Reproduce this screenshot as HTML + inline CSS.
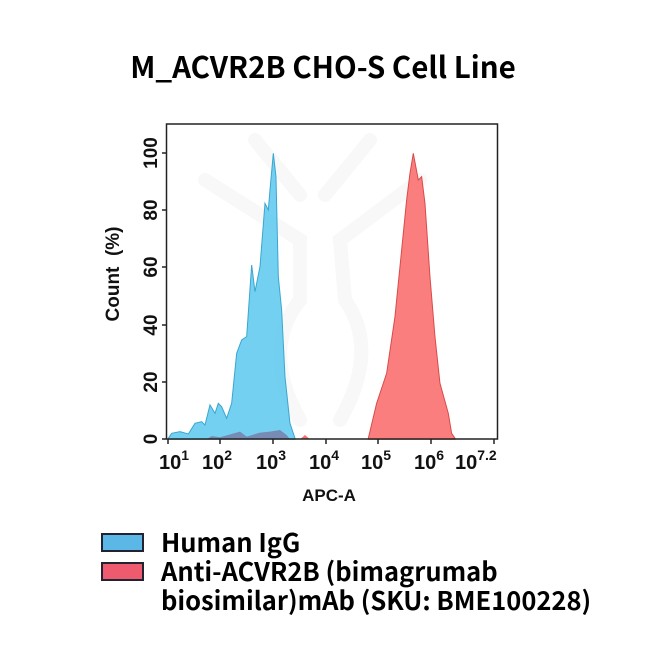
<!DOCTYPE html>
<html><head><meta charset="utf-8"><style>
html,body{margin:0;padding:0;background:#fff;}
svg{display:block;}
.t{font-family:"Liberation Sans",sans-serif;font-weight:bold;fill:#111;}
.n{font-family:"Noto Sans CJK SC","Liberation Sans",sans-serif;font-weight:bold;fill:#000;}
</style></head><body>
<svg width="672" height="672" viewBox="0 0 672 672" xmlns="http://www.w3.org/2000/svg">
<text class="n" x="323" y="78" font-size="29.5" text-anchor="middle">M_ACVR2B CHO-S Cell Line</text>
<!-- faint watermark -->
<g stroke="#f8f8f8" stroke-width="14" fill="none" stroke-linecap="round">
<path d="M205 180 L300 240 L300 300 Q260 350 300 420"/>
<path d="M255 140 L300 195"/>
<path d="M370 140 L325 195"/>
<path d="M420 180 L340 240 L345 300 Q380 350 340 420"/>
</g>
<g transform="translate(100,110) scale(0.3333)">
<path fill="#5bc8ef" fill-opacity="0.85" stroke="#3aa6cf" stroke-width="3" d="M205,988 L205,985 L215,970 L240,965 L265,972 L285,940 L305,935 L315,945 L330,885 L345,910 L355,880 L365,890 L380,925 L395,880 L410,730 L425,690 L440,680 L455,465 L465,545 L480,470 L495,280 L505,300 L510,240 L520,130 L528,200 L535,500 L545,600 L555,800 L570,940 L585,985 L585,988 Z"/>
<path fill="#7a6e9a" fill-opacity="0.7" d="M320,988 L335,978 L360,982 L420,965 L440,980 L480,968 L510,965 L540,960 L560,975 L570,988 Z"/>
<path fill="#fb7070" fill-opacity="0.9" stroke="#d94a4a" stroke-width="3" d="M805,988 L805,985 L830,880 L860,790 L885,620 L905,420 L920,270 L930,190 L940,130 L955,210 L965,200 L975,280 L990,500 L1005,680 L1020,820 L1045,910 L1055,970 L1065,985 L1065,988 Z"/>
<path fill="#fb7070" d="M600,988 L615,975 L630,988 Z"/>
</g>
<rect x="166.5" y="124" width="331" height="315" fill="none" stroke="#222" stroke-width="1.5"/>
<g stroke="#222" stroke-width="1.5">
<line x1="162" y1="439" x2="166" y2="439"/><line x1="162" y1="382" x2="166" y2="382"/>
<line x1="162" y1="325" x2="166" y2="325"/><line x1="162" y1="267" x2="166" y2="267"/>
<line x1="162" y1="210" x2="166" y2="210"/><line x1="162" y1="153" x2="166" y2="153"/>
<line x1="168" y1="439" x2="168" y2="444"/><line x1="220" y1="439" x2="220" y2="444"/>
<line x1="273" y1="439" x2="273" y2="444"/><line x1="326" y1="439" x2="326" y2="444"/>
<line x1="378" y1="439" x2="378" y2="444"/><line x1="431" y1="439" x2="431" y2="444"/>
<line x1="494" y1="439" x2="494" y2="444"/>
</g>
<g class="t" font-size="19">
<text transform="translate(157,439) rotate(-90)" text-anchor="middle">0</text>
<text transform="translate(157,382) rotate(-90)" text-anchor="middle">20</text>
<text transform="translate(157,325) rotate(-90)" text-anchor="middle">40</text>
<text transform="translate(157,267) rotate(-90)" text-anchor="middle">60</text>
<text transform="translate(157,210) rotate(-90)" text-anchor="middle">80</text>
<text transform="translate(157,153) rotate(-90)" text-anchor="middle">100</text>
<text transform="translate(119,274) rotate(-90)" text-anchor="middle" xml:space="preserve">Count  (%)</text>
<text x="329" y="501" text-anchor="middle" font-size="17">APC-A</text>
</g>
<g class="t" font-size="20">
<text x="159" y="469">10<tspan font-size="14" dy="-9">1</tspan></text>
<text x="202" y="469">10<tspan font-size="14" dy="-9">2</tspan></text>
<text x="256" y="469">10<tspan font-size="14" dy="-9">3</tspan></text>
<text x="309" y="469">10<tspan font-size="14" dy="-9">4</tspan></text>
<text x="361" y="469">10<tspan font-size="14" dy="-9">5</tspan></text>
<text x="414" y="469">10<tspan font-size="14" dy="-9">6</tspan></text>
<text x="455" y="469">10<tspan font-size="14" dy="-9">7.2</tspan></text>
</g>
<rect x="102" y="534" width="41" height="17" fill="#5bb8e6" stroke="#223" stroke-width="2"/>
<rect x="102" y="563" width="41" height="17" fill="#ee5b6f" stroke="#223" stroke-width="2"/>
<g class="n" font-size="25.5">
<text x="161" y="552">Human IgG</text>
<text x="161" y="581">Anti-ACVR2B (bimagrumab</text>
<text x="161" y="610">biosimilar)mAb (SKU: BME100228)</text>
</g>
</svg>
</body></html>
